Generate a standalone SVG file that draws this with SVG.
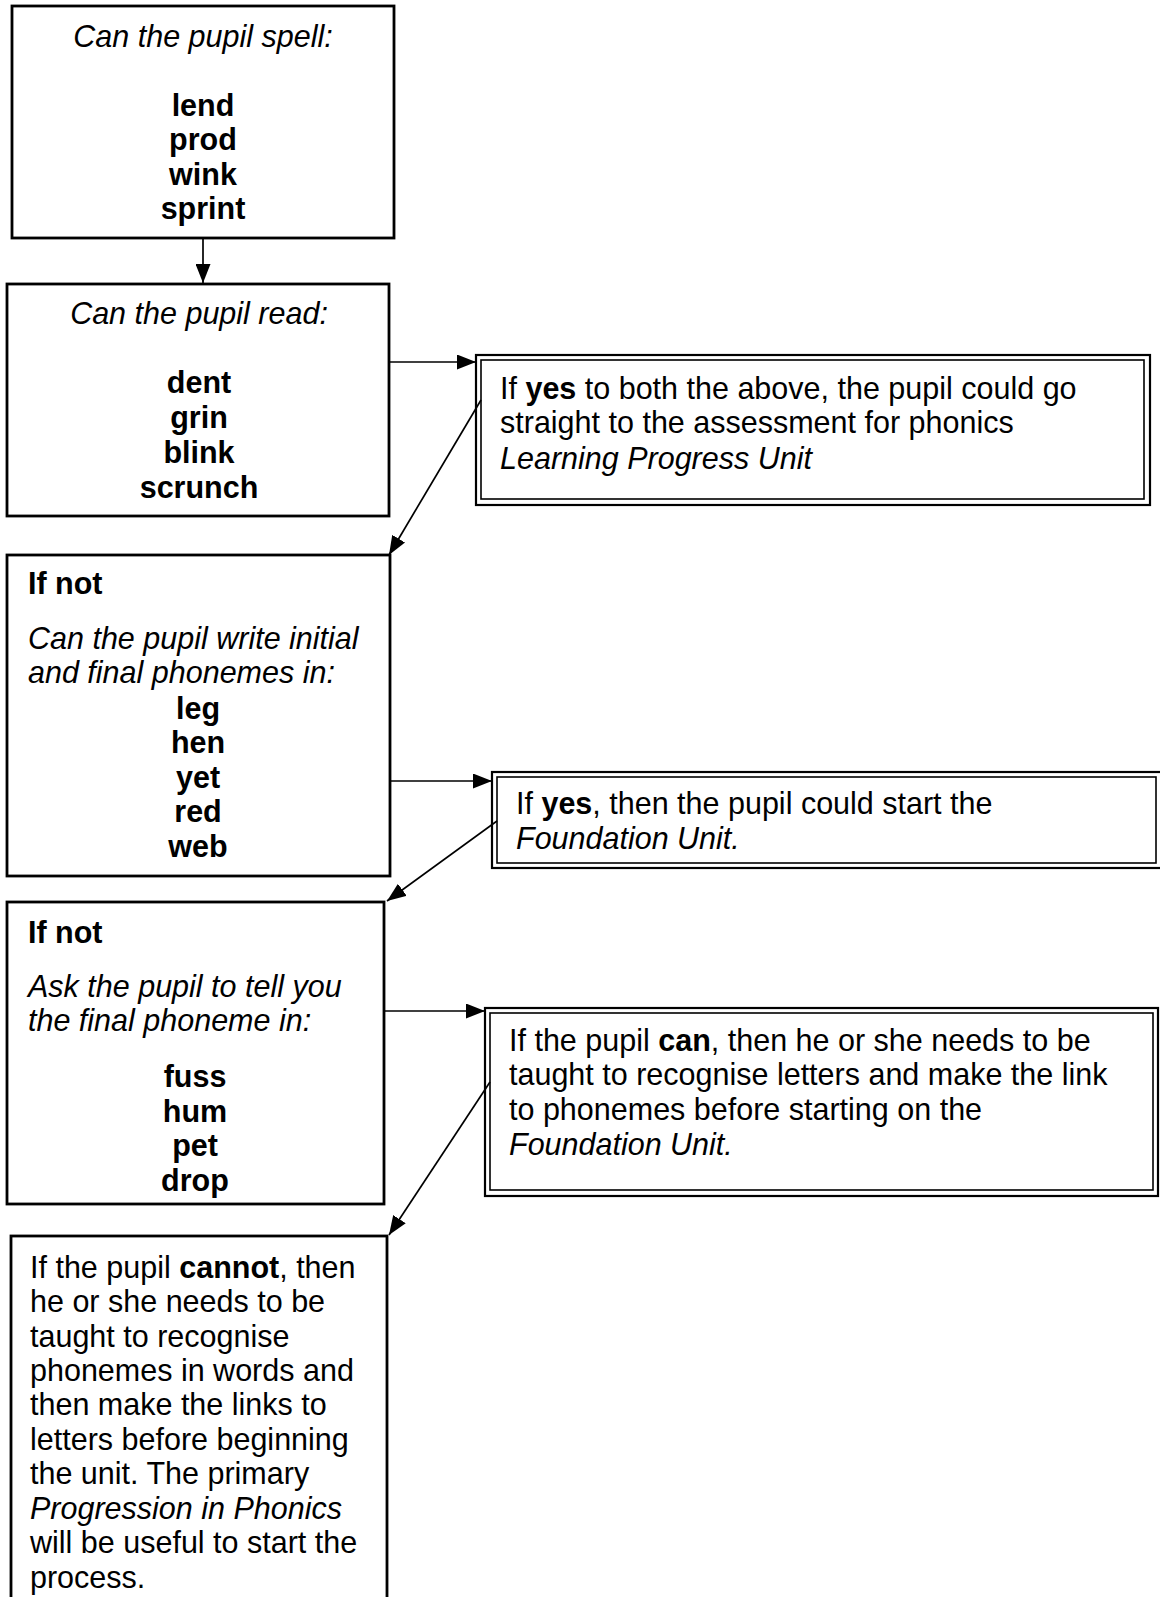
<svg xmlns="http://www.w3.org/2000/svg" width="1160" height="1597" viewBox="0 0 1160 1597">
<style>
text{font-family:"Liberation Sans",Arial,sans-serif;font-size:30.5px;fill:#000}
.c{text-anchor:middle}
.b{font-weight:bold}
.i{font-style:italic}
.box{fill:#fff;stroke:#000;stroke-width:2.8}
.outer{fill:#fff;stroke:#000;stroke-width:2.2}
.inner{fill:none;stroke:#000;stroke-width:1.6}
.ln{fill:none;stroke:#000;stroke-width:1.7}
</style>
<defs>
<marker id="ah" markerUnits="userSpaceOnUse" markerWidth="19" markerHeight="15" refX="19" refY="7.5" orient="auto">
<path d="M0,0 L19,7.5 L0,15 Z" fill="#000"/>
</marker>
<clipPath id="clip4"><rect x="7" y="902" width="377" height="301"/></clipPath>
</defs>
<rect width="1160" height="1597" fill="#fff"/>

<g id="spell">
<rect class="box" x="12" y="6" width="382" height="232"/>
<text class="c i" x="203" y="47">Can the pupil spell:</text>
<text class="c b" x="203" y="116">lend</text>
<text class="c b" x="203" y="150">prod</text>
<text class="c b" x="203" y="185">wink</text>
<text class="c b" x="203" y="219">sprint</text>
</g>

<g id="read">
<rect class="box" x="7" y="284" width="382" height="232"/>
<text class="c i" x="199" y="324">Can the pupil read:</text>
<text class="c b" x="199" y="393">dent</text>
<text class="c b" x="199" y="428">grin</text>
<text class="c b" x="199" y="463">blink</text>
<text class="c b" x="199" y="498">scrunch</text>
</g>

<g id="yesBoth">
<rect class="outer" x="476" y="355" width="674" height="150"/>
<rect class="inner" x="481" y="360" width="663" height="139"/>
<text x="500" y="399">If <tspan class="b">yes</tspan> to both the above, the pupil could go</text>
<text x="500" y="433">straight to the assessment for phonics</text>
<text class="i" x="500" y="469">Learning Progress Unit</text>
</g>

<g id="writePhonemes">
<rect class="box" x="7" y="555" width="383" height="321"/>
<text class="b" x="28" y="594">If not</text>
<text class="i" x="28" y="649">Can the pupil write initial</text>
<text class="i" x="28" y="683">and final phonemes in:</text>
<text class="c b" x="198" y="719">leg</text>
<text class="c b" x="198" y="753">hen</text>
<text class="c b" x="198" y="788">yet</text>
<text class="c b" x="198" y="822">red</text>
<text class="c b" x="198" y="857">web</text>
</g>

<g id="yesFoundation">
<rect class="outer" x="492" y="772" width="670" height="96"/>
<rect class="inner" x="497" y="777" width="659" height="86"/>
<text x="516" y="814">If <tspan class="b">yes</tspan>, then the pupil could start the</text>
<text class="i" x="516" y="849">Foundation Unit.</text>
</g>

<g id="finalPhoneme">
<rect class="box" x="7" y="902" width="377" height="302"/>
<text class="b" x="28" y="943">If not</text>
<text class="i" x="28" y="997">Ask the pupil to tell you</text>
<text class="i" x="28" y="1031">the final phoneme in:</text>
<g clip-path="url(#clip4)">
<text class="c b" x="195" y="1087">fuss</text>
<text class="c b" x="195" y="1122">hum</text>
<text class="c b" x="195" y="1156">pet</text>
<text class="c b" x="195" y="1191">drop</text>
</g>
</g>

<g id="canLetters">
<rect class="outer" x="485" y="1008" width="673" height="188"/>
<rect class="inner" x="490" y="1013" width="663" height="177"/>
<text x="509" y="1051">If the pupil <tspan class="b">can</tspan>, then he or she needs to be</text>
<text x="509" y="1085">taught to recognise letters and make the link</text>
<text x="509" y="1120">to phonemes before starting on the</text>
<text class="i" x="509" y="1155">Foundation Unit.</text>
</g>

<g id="cannot">
<rect class="box" x="11" y="1236" width="376" height="400"/>
<text x="30" y="1278">If the pupil <tspan class="b">cannot</tspan>, then</text>
<text x="30" y="1312">he or she needs to be</text>
<text x="30" y="1347">taught to recognise</text>
<text x="30" y="1381">phonemes in words and</text>
<text x="30" y="1415">then make the links to</text>
<text x="30" y="1450">letters before beginning</text>
<text x="30" y="1484">the unit. The primary</text>
<text class="i" x="30" y="1519">Progression in Phonics</text>
<text x="30" y="1553">will be useful to start the</text>
<text x="30" y="1588">process.</text>
</g>

<g id="connectors">
<line class="ln" x1="203" y1="238" x2="203" y2="283" marker-end="url(#ah)"/>
<line class="ln" x1="389" y1="362" x2="476" y2="362" marker-end="url(#ah)"/>
<line class="ln" x1="481" y1="400" x2="389" y2="555" marker-end="url(#ah)"/>
<line class="ln" x1="390" y1="781" x2="492" y2="781" marker-end="url(#ah)"/>
<line class="ln" x1="497" y1="821" x2="387" y2="901" marker-end="url(#ah)"/>
<line class="ln" x1="384" y1="1011" x2="485" y2="1011" marker-end="url(#ah)"/>
<line class="ln" x1="490" y1="1082" x2="389" y2="1235" marker-end="url(#ah)"/>
</g>
</svg>
